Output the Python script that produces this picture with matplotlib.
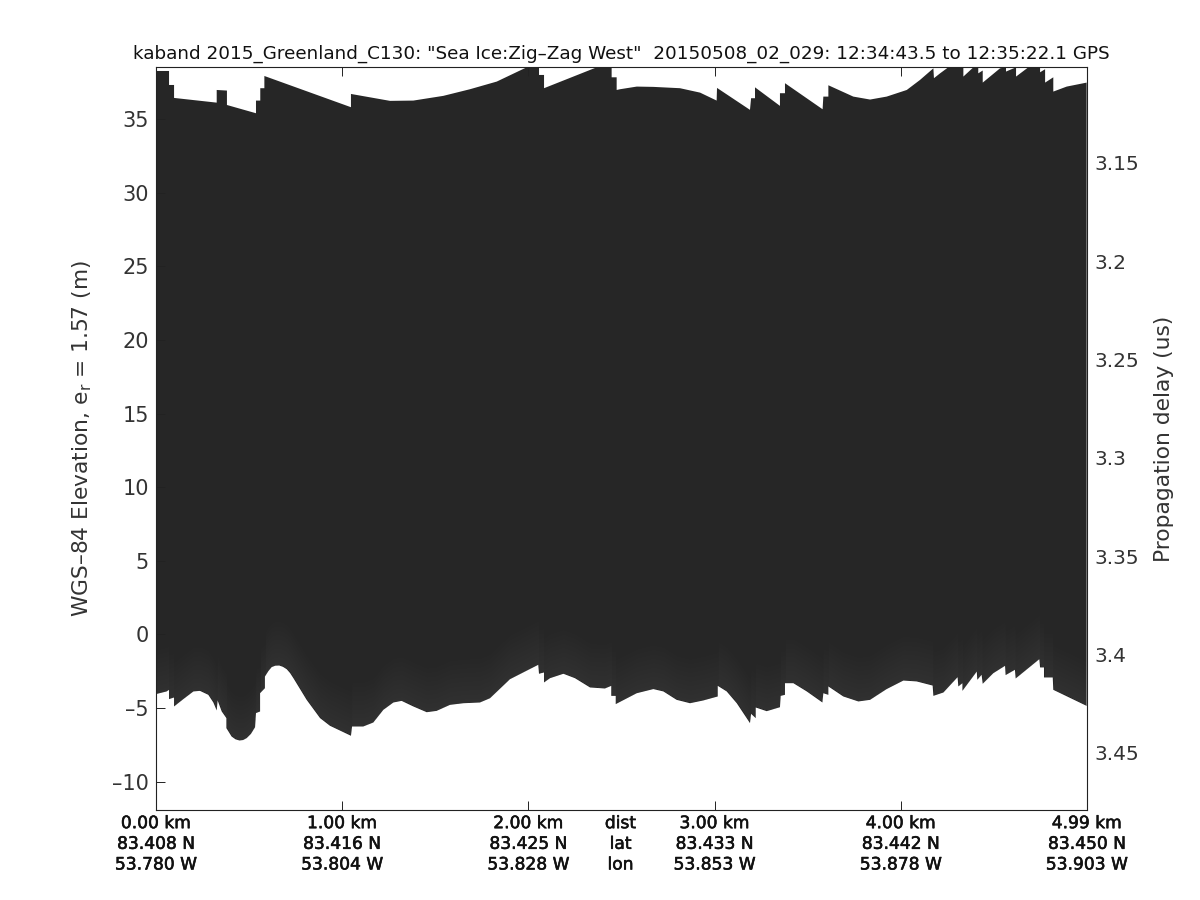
import matplotlib
matplotlib.use('Agg')
import matplotlib.pyplot as plt
import matplotlib.patheffects as pe
import numpy as np

# upper edge of the echogram (distance km, elevation m), repeated x = range step
top_km = [0, 0.070, 0.070, 0.097, 0.097, 0.326, 0.326, 0.381, 0.381, 0.537, 0.537, 0.560, 0.560, 0.582, 0.582,
          1.047, 1.047, 1.257, 1.382, 1.543, 1.686, 1.830, 1.991, 2.057, 2.057, 2.084, 2.084, 2.367, 2.447, 2.447,
          2.474, 2.474, 2.492, 2.582, 2.671, 2.814, 2.922, 3.011, 3.013, 3.190, 3.196, 3.217, 3.217, 3.351, 3.351,
          3.378, 3.378, 3.580, 3.584, 3.611, 3.611, 3.745, 3.835, 3.924, 4.032, 4.103, 4.175, 4.178, 4.211, 4.255,
          4.336, 4.336, 4.390, 4.416, 4.416, 4.440, 4.440, 4.533, 4.565, 4.565, 4.619, 4.619, 4.685, 4.748, 4.748,
          4.775, 4.775, 4.819, 4.819, 4.891, 4.998]
top_elev = [38.26, 38.26, 37.31, 37.31, 36.43, 36.11, 36.97, 36.93, 35.95, 35.39, 36.25, 36.25, 37.09, 37.09, 37.92,
            35.80, 36.70, 36.23, 36.25, 36.57, 37.02, 37.54, 38.51, 38.51, 37.99, 37.99, 37.09, 38.51, 38.51, 37.83,
            37.83, 36.97, 37.02, 37.20, 37.18, 37.09, 36.79, 36.25, 37.11, 35.62, 36.41, 36.41, 37.15, 35.89, 36.75,
            36.75, 37.43, 35.66, 36.52, 36.52, 37.29, 36.52, 36.32, 36.52, 36.97, 37.65, 38.44, 37.77, 38.10, 38.51,
            38.51, 37.88, 38.51, 38.51, 38.10, 38.29, 37.47, 38.44, 38.51, 38.22, 38.51, 37.88, 38.51, 38.51, 38.17,
            38.38, 37.47, 37.83, 36.86, 37.20, 37.47]

# lower edge of the echogram
bottom_km = [0, 0.057, 0.070, 0.070, 0.097, 0.097, 0.147, 0.201, 0.236, 0.281, 0.308, 0.326, 0.331, 0.353, 0.378,
             0.378, 0.406, 0.427, 0.448, 0.468, 0.487, 0.510, 0.532, 0.537, 0.559, 0.559, 0.585, 0.585, 0.603, 0.621,
             0.641, 0.662, 0.682, 0.702, 0.720, 0.738, 0.809,
             0.881, 0.934, 1.047, 1.053, 1.113, 1.167, 1.221, 1.275, 1.319, 1.382, 1.454, 1.507, 1.579, 1.651, 1.740,
             1.794, 1.901, 2.053, 2.057, 2.084, 2.084, 2.116, 2.188, 2.250, 2.331, 2.411, 2.445, 2.445, 2.469, 2.469,
             2.582, 2.671, 2.725, 2.796, 2.868, 2.940, 3.017, 3.017, 3.065, 3.119, 3.190, 3.196, 3.221, 3.221, 3.280,
             3.351, 3.355, 3.378, 3.378, 3.423, 3.495, 3.579, 3.584, 3.611, 3.611, 3.691, 3.772, 3.835, 3.924, 4.014,
             4.085, 4.171, 4.175, 4.229, 4.305, 4.309, 4.331, 4.331, 4.408, 4.411, 4.434, 4.440, 4.497, 4.560, 4.563,
             4.613, 4.617, 4.744, 4.748, 4.769, 4.769, 4.816, 4.819, 4.998]
bottom_elev = [-4.05, -3.87, -3.76, -4.39, -4.28, -4.89, -4.39, -3.87, -3.83, -4.10, -4.62, -5.16, -4.48, -5.23, -5.68,
               -6.36, -6.93, -7.12, -7.20, -7.17, -7.04, -6.75, -6.30, -5.34, -5.23, -3.99, -3.65, -2.86, -2.50, -2.22,
               -2.12, -2.11, -2.20, -2.36, -2.62, -2.97, -4.44,
               -5.68, -6.20, -6.88, -6.25, -6.25, -5.98, -5.12, -4.62, -4.51, -4.89, -5.28, -5.19, -4.78, -4.67, -4.62,
               -4.33, -3.04, -2.06, -2.67, -2.58, -3.26, -2.97, -2.67, -2.97, -3.60, -3.67, -3.49, -4.17, -4.17, -4.73,
               -3.99, -3.71, -3.87, -4.44, -4.67, -4.48, -4.21, -3.49, -3.87, -4.67, -6.02, -5.39, -5.68, -4.96, -5.21,
               -4.94, -4.17, -4.10, -3.31, -3.31, -3.87, -4.62, -3.99, -4.10, -3.53, -4.21, -4.55, -4.44, -3.71, -3.13,
               -3.19, -3.47, -4.17, -3.94, -2.90, -3.53, -3.31, -3.83, -2.52, -3.08, -2.74, -3.35, -2.63, -2.13, -2.76,
               -2.40, -2.99, -1.68, -2.24, -2.24, -2.92, -2.92, -3.76, -4.85]

elev_ticks = [-10, -5, 0, 5, 10, 15, 20, 25, 30, 35]
elev_labels = ['\u201310', '\u20135', '0', '5', '10', '15', '20', '25', '30', '35']
delay_ticks = [3.15, 3.2, 3.25, 3.3, 3.35, 3.4, 3.45]
delay_labels = ['3.15', '3.2', '3.25', '3.3', '3.35', '3.4', '3.45']
dist_ticks = [0, 1.0, 2.0, 3.0, 4.0, 5.0]
dist_labels = ['0.00 km', '1.00 km', '2.00 km', '3.00 km', '4.00 km', '4.99 km']
lat_labels = ['83.408 N', '83.416 N', '83.425 N', '83.433 N', '83.442 N', '83.450 N']
lon_labels = ['53.780 W', '53.804 W', '53.828 W', '53.853 W', '53.878 W', '53.903 W']

title = 'kaband 2015_Greenland_C130: "Sea Ice:Zig\u2013Zag West"  20150508_02_029: 12:34:43.5 to 12:35:22.1 GPS'

plt.rcParams['font.family'] = 'DejaVu Sans'
plt.rcParams['mathtext.default'] = 'regular'

fig = plt.figure(figsize=(12, 9), dpi=100)
ax = fig.add_axes([156 / 1200, 90 / 900, 931 / 1200, 743 / 900])

xs = np.r_[top_km, bottom_km[::-1]]
ys = np.r_[top_elev, bottom_elev[::-1]]
ax.fill(xs, ys, color='#262626', lw=0)

# the echo is a bit brighter just above the lower edge, fade it out in thin layers
bottom_km = np.array(bottom_km)
bottom_elev = np.array(bottom_elev)
for h in np.arange(0.3, 3.0, 0.3):
    ax.fill_between(bottom_km, bottom_elev + 0.05, bottom_elev + h, color='white', alpha=0.008, lw=0)

ax.set_xlim(0, 5.0)
ax.set_ylim(-11.92, 38.53)

ax.set_yticks(elev_ticks, elev_labels)
ax.set_xticks(dist_ticks, ['%s\n%s\n%s' % t for t in zip(dist_labels, lat_labels, lon_labels)])
ax.set_xticks([2.495], ['dist\nlat\nlon'], minor=True)
ax.tick_params(axis='x', which='major', direction='in', length=6.5, width=0.7, top=True, pad=3,
               labelsize=12.3, labelcolor='#111111', color='#222222')
ax.tick_params(axis='x', which='minor', length=0, pad=3, labelsize=12.3, labelcolor='#111111')
ax.tick_params(axis='y', direction='in', length=6.5, width=0.7, right=True, pad=5,
               labelsize=15, labelcolor='#333333', color='#222222')
for lab in ax.get_xticklabels(which='both'):
    lab.set_linespacing(1.19)
    lab.set_path_effects([pe.withStroke(linewidth=0.4, foreground='#111111')])
for s in ax.spines.values():
    s.set_linewidth(0.8)
    s.set_color('#222222')

ax2 = ax.twinx()
ax2.set_ylim(3.479, 3.1012)
ax2.set_yticks(delay_ticks, delay_labels)
ax2.tick_params(axis='y', length=0, pad=5, labelsize=14.5, labelcolor='#333333')
for s in ax2.spines.values():
    s.set_visible(False)

ax.set_ylabel('WGS\u201384 Elevation, e$_r$ = 1.57 (m)', fontsize=15.7, color='#333333', labelpad=13)
ax2.set_ylabel('Propagation delay (us)', fontsize=15.7, color='#333333', labelpad=11)
ax.set_title(title, fontsize=13.25, color='#111111', pad=6)

plt.savefig('out.png', dpi=100)
